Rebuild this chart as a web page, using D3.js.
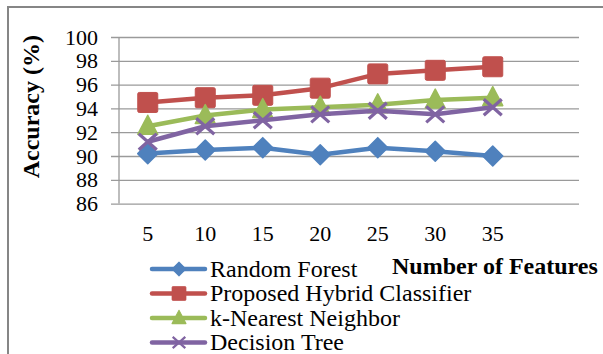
<!DOCTYPE html>
<html>
<head>
<meta charset="utf-8">
<script src="https://cdn.jsdelivr.net/npm/d3@7"></script>
<style>
  html, body { margin: 0; padding: 0; background: #fff; }
  svg { display: block; }
</style>
</head>
<body>
<svg id="chart" width="603" height="354"></svg>
<script>
// Number of features evaluated
const categories = ["5", "10", "15", "20", "25", "30", "35"];
// Accuracy (%) per classifier
const randomForest = [90.2, 90.5, 90.7, 90.1, 90.7, 90.4, 90.0];
const hybridClassifier = [94.5, 94.9, 95.1, 95.7, 96.9, 97.2, 97.5];
const knn = [92.5, 93.4, 93.9, 94.1, 94.3, 94.7, 94.9];
const decisionTree = [91.2, 92.5, 93.0, 93.5, 93.8, 93.5, 94.1];
const yTicks = [86, 88, 90, 92, 94, 96, 98, 100];

const seriesNames = ["Random Forest", "Proposed Hybrid Classifier", "k-Nearest Neighbor", "Decision Tree"];
const seriesColors = ["#4F81BD", "#C0504D", "#9BBB59", "#8064A2"];
const seriesMarkers = ["diamond", "square", "triangle", "cross"];
const series = [randomForest, hybridClassifier, knn, decisionTree].map((values, i) => ({
  name: seriesNames[i], color: seriesColors[i], marker: seriesMarkers[i], values
}));

const FONT = "'Liberation Serif', 'Times New Roman', serif";
const svg = d3.select("#chart");

// outer chart frame
svg.append("rect")
  .attr("x", 8).attr("y", 7).attr("width", 620).attr("height", 380)
  .attr("fill", "none").attr("stroke", "#868686").attr("stroke-width", 2);

const plot = { left: 119, right: 579, top: 37, bottom: 203.6 };

const x = d3.scaleBand().domain(categories).range([plot.left, plot.left + 57.5 * categories.length]);
const y = d3.scaleLinear().domain([86, 100]).range([plot.bottom, plot.top]);

// horizontal gridlines with short ticks to the left of the axis
const yAxis = d3.axisLeft(y).tickValues(yTicks).tickSize(-(plot.right - plot.left)).tickPadding(21).tickFormat(d3.format("d"));
const gy = svg.append("g").attr("transform", `translate(${plot.left},0)`).call(yAxis);
gy.select(".domain").remove();
gy.selectAll(".tick line").attr("stroke", "#9a9a9a").attr("stroke-width", 1.3).attr("x1", -8);
gy.selectAll(".tick text").style("font-family", FONT).style("font-size", "22px").attr("fill", "#000");

// vertical value axis line
svg.append("line")
  .attr("x1", plot.left).attr("x2", plot.left)
  .attr("y1", plot.top).attr("y2", plot.bottom)
  .attr("stroke", "#9a9a9a").attr("stroke-width", 1.3);

// category labels
const xAxis = d3.axisBottom(x).tickSize(0).tickPadding(22);
const gx = svg.append("g").attr("transform", `translate(0,${plot.bottom})`).call(xAxis);
gx.select(".domain").remove();
gx.selectAll(".tick text").style("font-family", FONT).style("font-size", "22px").attr("fill", "#000");

// axis titles
svg.append("text")
  .attr("transform", "translate(38.5,106.7) rotate(-90)")
  .attr("text-anchor", "middle")
  .style("font-family", FONT).style("font-size", "24px").style("font-weight", "bold")
  .text("Accuracy (%)");

svg.append("text")
  .attr("x", 392).attr("y", 273.5)
  .style("font-family", FONT).style("font-size", "24px").style("font-weight", "bold")
  .text("Number of Features");

const cx = c => x(c) + x.bandwidth() / 2;

function drawMarker(g, type, color, px, py) {
  if (type === "diamond") {
    g.append("path").attr("d", `M${px},${py - 10}L${px + 10},${py}L${px},${py + 10}L${px - 10},${py}Z`)
      .attr("fill", color).attr("stroke", color).attr("stroke-width", 1.5).attr("stroke-linejoin", "round");
  } else if (type === "square") {
    g.append("rect").attr("x", px - 10).attr("y", py - 10).attr("width", 20).attr("height", 20)
      .attr("fill", color).attr("stroke", color).attr("stroke-width", 1).attr("rx", 1.5);
  } else if (type === "triangle") {
    g.append("path").attr("d", `M${px},${py - 11}L${px + 10},${py + 8}L${px - 10},${py + 8}Z`)
      .attr("fill", color).attr("stroke", color).attr("stroke-width", 1.5).attr("stroke-linejoin", "round");
  } else {
    g.append("path").attr("d", `M${px - 9},${py - 8}L${px + 9},${py + 8}M${px - 9},${py + 8}L${px + 9},${py - 8}`)
      .attr("stroke", color).attr("stroke-width", 3.2).attr("fill", "none");
  }
}

const line = d3.line().x((d, i) => cx(categories[i])).y(d => y(d));

series.forEach(s => {
  const g = svg.append("g");
  g.append("path").datum(s.values).attr("d", line)
    .attr("fill", "none").attr("stroke", s.color).attr("stroke-width", 4.5).attr("stroke-linejoin", "round");
  s.values.forEach((v, i) => drawMarker(g, s.marker, s.color, cx(categories[i]), y(v)));
});

// legend
const legendY = d3.scalePoint().domain(seriesNames).range([269, 342.5]);
series.forEach(s => {
  const ly = legendY(s.name);
  const g = svg.append("g");
  g.append("line").attr("x1", 152).attr("x2", 205).attr("y1", ly).attr("y2", ly)
    .attr("stroke", s.color).attr("stroke-width", 4.5).attr("stroke-linecap", "round");
  const mg = g.append("g").attr("transform", `translate(179,${ly}) scale(0.7) translate(-179,${-ly})`);
  drawMarker(mg, s.marker, s.color, 179, ly);
  g.append("text").attr("x", 210).attr("y", ly + 7.7)
    .style("font-family", FONT).style("font-size", "24px")
    .text(s.name);
});
</script>
</body>
</html>
